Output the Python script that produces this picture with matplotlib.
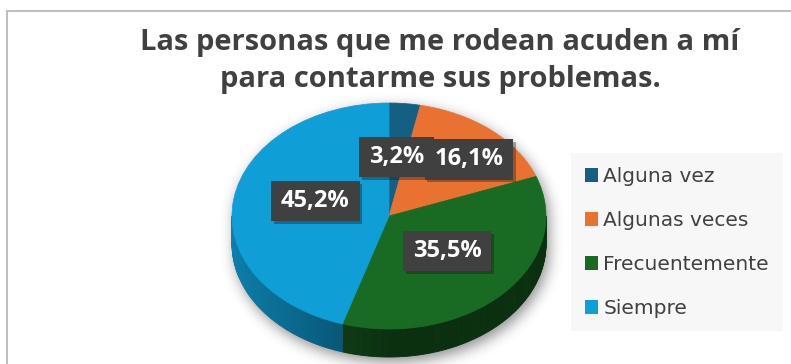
import numpy as np
import matplotlib.pyplot as plt
from matplotlib.patches import Patch
from matplotlib.collections import PolyCollection
from matplotlib.colors import to_rgb
from matplotlib.path import Path
from matplotlib import patheffects as pe

W, H = 791, 364

TITLE = "Las personas que me rodean acuden a mí\npara contarme sus problemas."
CATEGORIES = ["Alguna vez", "Algunas veces", "Frecuentemente", "Siempre"]
PERCENTS = [3.2, 16.1, 35.5, 45.2]
COLORS = ["#156082", "#E97132", "#196B24", "#0F9ED5"]

# where each data label sits, in pie units (radius = 1)
LABEL_POS = [(0.05, 0.52), (0.51, 0.50), (0.37, -0.31), (-0.47, 0.13)]

# pie geometry in pixels
CX, CY = 389, 216
RX, RY = 157, 113
DEPTH = 28

FONT = "Open Sans"
TEXT_COLOR = "#404040"


def blur(a, sigma):
    r = int(3 * sigma)
    k = np.exp(-0.5 * (np.arange(-r, r + 1) / sigma) ** 2)
    k /= k.sum()
    a = np.apply_along_axis(lambda v: np.convolve(v, k, mode="same"), 0, a)
    a = np.apply_along_axis(lambda v: np.convolve(v, k, mode="same"), 1, a)
    return a


def label_box(x0, y0, width, height, mutation_size):
    # wide horizontal padding, a bit less vertically
    px, py = 0.42 * mutation_size, 0.34 * mutation_size
    x1, y1 = x0 + width + px, y0 + height + py
    x0, y0 = x0 - px, y0 - py
    return Path([(x0, y0), (x1, y0), (x1, y1), (x0, y1), (x0, y0)], closed=True)


def fmt_pct(p):
    return f"{p:.1f}%".replace(".", ",")


fig = plt.figure(figsize=(W / 100, H / 100), dpi=100)

# background layer: border, soft shadow under the pie, legend
bg = fig.add_axes([0, 0, 1, 1])
bg.axis("off")

yy, xx = np.mgrid[0:H, 0:W] + 0.5
sx, sy = 3, 5
inside = np.zeros((H, W), bool)
for yc in (CY, CY + DEPTH):
    inside |= ((xx - CX - sx) / RX) ** 2 + ((yy - yc - sy) / RY) ** 2 <= 1
inside |= (np.abs(xx - CX - sx) <= RX) & (yy >= CY + sy) & (yy <= CY + DEPTH + sy)
shadow = blur(inside.astype(float), 7)
rgba = np.zeros((H, W, 4))
rgba[..., 3] = 0.45 * shadow
bg.imshow(rgba, extent=(0, W, H, 0), interpolation="bilinear", zorder=0)

bg.plot([7, 7, W + 5], [H + 5, 11, 11], color="#bfbfbf", lw=1.5,
        solid_joinstyle="miter", clip_on=False)
bg.set_aspect("auto")
bg.set_xlim(0, W)
bg.set_ylim(H, 0)

handles = [Patch(facecolor=c, edgecolor="none") for c in COLORS]
bg.legend(handles, CATEGORIES, loc="upper left", bbox_to_anchor=(571, 153),
          bbox_transform=bg.transData, frameon=True, fancybox=False,
          facecolor="#f7f7f7", edgecolor="none", framealpha=1,
          prop=dict(family="DejaVu Sans", size=14.5), labelcolor=TEXT_COLOR,
          borderpad=0.68, labelspacing=1.24, handlelength=0.65,
          handleheight=0.7, handletextpad=0.28, borderaxespad=0)

# pie layer
ax = fig.add_axes([0, 0, 1, 1])
wedges, _ = ax.pie(PERCENTS, colors=COLORS, startangle=90, counterclock=False, radius=1)
for w in wedges:
    w.set_edgecolor(w.get_facecolor())
    w.set_linewidth(0.5)
    w.set_zorder(2)

# side wall of the front half, shaded darker toward the bottom right
d = DEPTH / RY
fr = np.array(PERCENTS) / sum(PERCENTS)
ends = np.cumsum(fr)
starts = ends - fr
polys, cols = [], []
for s, e, c in zip(starts, ends, COLORS):
    lo = max(90 - 360 * e, -180)
    hi = min(90 - 360 * s, 0)
    if hi <= lo:
        continue
    t = np.radians(np.linspace(lo, hi, int(hi - lo) + 2))
    base = np.array(to_rgb(c))
    for t0, t1 in zip(t[:-1], t[1:]):
        polys.append([(np.cos(t0), np.sin(t0)), (np.cos(t1), np.sin(t1)),
                      (np.cos(t1), np.sin(t1) - d), (np.cos(t0), np.sin(t0) - d)])
        f = 0.45 + 0.35 * max(0.0, -np.cos((t0 + t1) / 2))
        cols.append(base * f)
ax.add_collection(PolyCollection(polys, facecolors=cols, edgecolors=cols,
                                 linewidths=0.6, zorder=1))

for (x, y), p in zip(LABEL_POS, PERCENTS):
    t = ax.text(x, y, fmt_pct(p), ha="center", va="center", color="white",
                fontsize=17, fontweight="bold", family=FONT, zorder=5,
                bbox=dict(boxstyle=label_box, fc="#404040", ec="none"))
    t.get_bbox_patch().set_path_effects(
        [pe.SimplePatchShadow(offset=(2, -2), alpha=0.35), pe.Normal()])

ax.set_aspect("auto")
ax.set_xlim(-CX / RX, (W - CX) / RX)
ax.set_ylim(-(H - CY) / RY, CY / RY)
ax.axis("off")

fig.text(440 / W, 1 - 61 / H, TITLE, ha="center", va="center", fontsize=21,
         fontweight="bold", color=TEXT_COLOR, family=FONT, linespacing=1.35)

fig.savefig("out.png", dpi=100)
